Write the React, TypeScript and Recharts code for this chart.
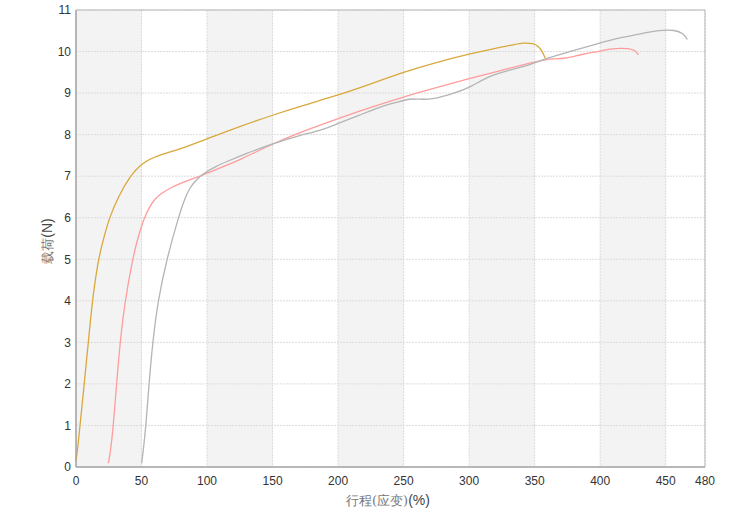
import React from "react";
import { LineChart, Line, XAxis, YAxis, CartesianGrid, ReferenceArea, Label } from "recharts";

// strain (%) and load (N) for each specimen
const goldStrain = [0, 1.5, 3.05, 6.3, 9.4, 12.4, 17, 20.8, 25.4, 32.3, 41.2, 50, 61.6, 79.4, 100, 125, 150, 175, 200, 225, 250, 275, 300, 320, 335, 341, 349, 353, 356, 358];
const goldLoad = [0.15, 0.5, 1, 2, 3, 4, 5, 5.47, 6, 6.51, 7, 7.31, 7.49, 7.65, 7.9, 8.2, 8.47, 8.72, 8.95, 9.22, 9.51, 9.74, 9.94, 10.08, 10.17, 10.21, 10.2, 10.12, 10.0, 9.84];

const pinkStrain = [24.7, 26.5, 28.5, 31, 33.6, 37.4, 43.2, 47, 52, 56, 60, 65, 72, 80, 87, 94.6, 110, 125, 150, 175, 200, 225, 250, 275, 300, 325, 350, 362, 372, 387, 400, 408, 423, 427, 429];
const pinkLoad = [0.09, 0.41, 1, 2, 3, 4, 5, 5.5, 6, 6.25, 6.45, 6.58, 6.72, 6.83, 6.92, 7.0, 7.2, 7.39, 7.78, 8.1, 8.39, 8.66, 8.91, 9.13, 9.35, 9.55, 9.75, 9.84, 9.81, 9.95, 10.0, 10.08, 10.08, 10.02, 9.92];

const grayStrain = [50.1, 51.4, 53.4, 55.7, 58.5, 62.5, 69.2, 78.1, 83, 87, 89.5, 94, 99.7, 107, 115, 130, 150, 171, 186, 200, 215, 232, 245, 255, 261, 273, 288, 301, 316, 331, 350, 359, 377, 400, 413, 428, 446, 457, 463.5, 466.5];
const grayLoad = [0.09, 0.41, 1, 2, 3, 4, 5, 6, 6.47, 6.72, 6.83, 6.98, 7.11, 7.24, 7.35, 7.55, 7.78, 7.99, 8.09, 8.27, 8.45, 8.67, 8.78, 8.87, 8.85, 8.85, 8.99, 9.14, 9.43, 9.55, 9.72, 9.84, 10.0, 10.21, 10.32, 10.41, 10.52, 10.52, 10.44, 10.29];

const xTicks = [0, 50, 100, 150, 200, 250, 300, 350, 400, 450, 480];
const yTicks = [0, 1, 2, 3, 4, 5, 6, 7, 8, 9, 10, 11];

const toPoints = (xs: number[], ys: number[]) => xs.map((x, i) => ({ x, y: ys[i] }));

const series = [
  { name: "gold", color: "#d9a83c", data: toPoints(goldStrain, goldLoad) },
  { name: "pink", color: "#ff9c9c", data: toPoints(pinkStrain, pinkLoad) },
  { name: "gray", color: "#b4b4b4", data: toPoints(grayStrain, grayLoad) },
];

const tickStyle = { fontSize: 12, fill: "#333", fontFamily: "Liberation Sans, Arial, sans-serif" };

export default function App() {
  return (
    <div style={{ position: "absolute", left: 0, top: 0 }}>
      <LineChart width={756} height={509} margin={{ top: 10, right: 51, bottom: 0, left: 0 }}>
        <CartesianGrid
          stroke="#dcdcdc"
          strokeDasharray="2 1"
          verticalFill={["#f3f3f3", "#ffffff"]}
          fillOpacity={1}
        />
        <XAxis
          type="number"
          dataKey="x"
          domain={[0, 480]}
          ticks={xTicks}
          interval={0}
          tickLine={false}
          tickSize={0}
          tickMargin={9}
          height={42}
          stroke="#999"
          tick={tickStyle}
        >
          <Label
            content={() => (
              <text x={388} y={505} textAnchor="middle" fontSize={14}>
                <tspan fill="#777" fontFamily="DejaVu Serif, serif" fontSize={13}>行程(应变)</tspan>
                <tspan fill="#444" fontFamily="Liberation Sans, Arial, sans-serif">(%)</tspan>
              </text>
            )}
          />
        </XAxis>
        <YAxis
          type="number"
          domain={[0, 11]}
          ticks={yTicks}
          interval={0}
          tickLine={false}
          tickSize={0}
          tickMargin={5}
          width={76}
          stroke="#999"
          tick={tickStyle}
        >
          <Label
            content={() => (
              <text x={52} y={241} textAnchor="middle" fontSize={14} transform="rotate(-90 52 241)">
                <tspan fill="#777" fontFamily="DejaVu Serif, serif" fontSize={13}>载荷</tspan>
                <tspan fill="#444" fontFamily="Liberation Sans, Arial, sans-serif">(N)</tspan>
              </text>
            )}
          />
        </YAxis>
        <ReferenceArea x1={0} x2={480} y1={0} y2={11} fill="none" stroke="#b8b8b8" strokeWidth={1} />
        {series.map((s) => (
          <Line
            key={s.name}
            data={s.data}
            dataKey="y"
            type="basis"
            stroke={s.color}
            strokeWidth={1.3}
            dot={false}
            activeDot={false}
            isAnimationActive={false}
          />
        ))}
      </LineChart>
    </div>
  );
}
